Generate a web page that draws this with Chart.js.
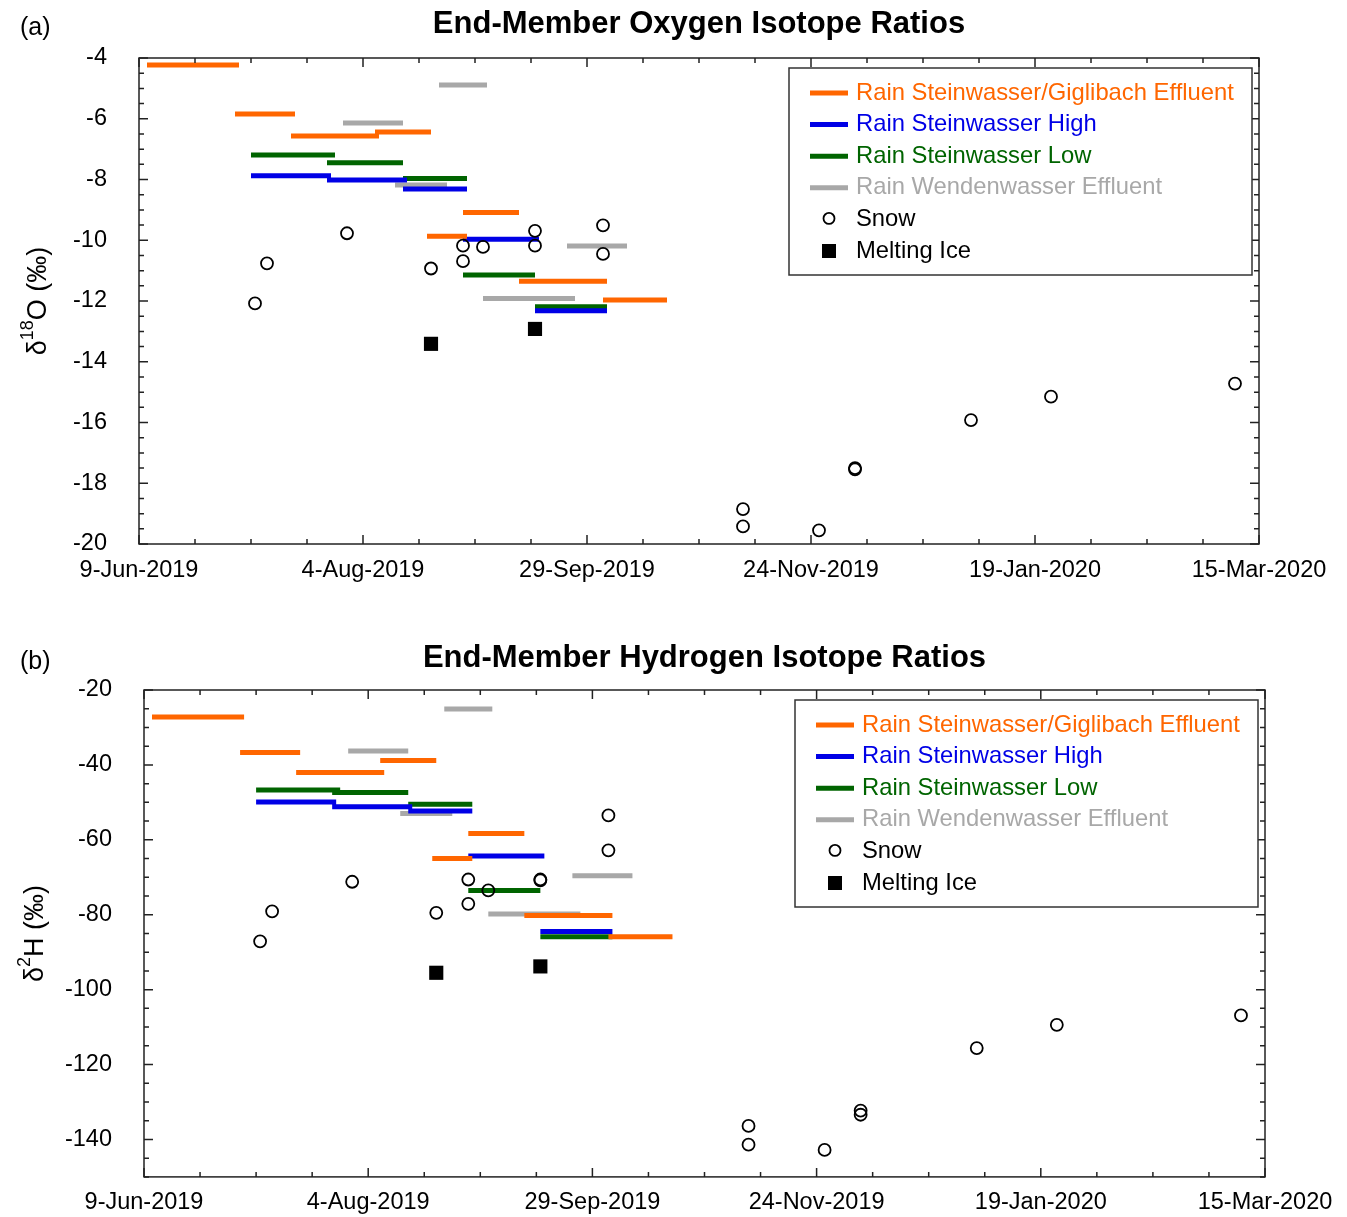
<!DOCTYPE html>
<html>
<head>
<meta charset="utf-8">
<title>End-Member Isotope Ratios</title>
<script src="https://cdn.jsdelivr.net/npm/chart.js@4.4.1/dist/chart.umd.min.js"></script>
<style>
  body { margin: 0; background: #fff; overflow: hidden; }
  canvas { position: absolute; left: 0; }
  #chartO { top: 0; }
  #chartH { top: 608px; }
</style>
</head>
<body>
<canvas id="chartO" width="1347" height="608"></canvas>
<canvas id="chartH" width="1347" height="615"></canvas>
<script>
// x axis: days after 9-Jun-2019, labelled every 8 weeks
const xStart = '2019-06-09';
const xEnd = '2020-03-15';
const xTickDates = ['2019-06-09', '2019-08-04', '2019-09-29', '2019-11-24', '2020-01-19', '2020-03-15'];
const xTickLabels = ['9-Jun-2019', '4-Aug-2019', '29-Sep-2019', '24-Nov-2019', '19-Jan-2020', '15-Mar-2020'];

// Rain Steinwasser/Giglibach Effluent
const sgStart = ['2019-06-11', '2019-07-03', '2019-07-17', '2019-08-07', '2019-08-20', '2019-08-29', '2019-09-12', '2019-10-03'];
const sgEnd   = ['2019-07-04', '2019-07-18', '2019-08-08', '2019-08-21', '2019-08-30', '2019-09-12', '2019-10-04', '2019-10-19'];
const sgO = [-4.23, -5.84, -6.57, -6.44, -9.87, -9.09, -11.35, -11.97];
const sgH = [-27.2, -36.7, -42.0, -38.8, -65.0, -58.3, -80.2, -85.9];

// Rain Steinwasser High
const highStart = ['2019-07-07', '2019-07-26', '2019-08-14', '2019-08-29', '2019-09-16'];
const highEnd   = ['2019-07-27', '2019-08-15', '2019-08-30', '2019-09-17', '2019-10-04'];
const highO = [-7.88, -8.02, -8.31, -9.97, -12.32];
const highH = [-49.9, -51.2, -52.3, -64.3, -84.5];

// Rain Steinwasser Low
const lowStart = ['2019-07-07', '2019-07-26', '2019-08-14', '2019-08-29', '2019-09-16'];
const lowEnd   = ['2019-07-28', '2019-08-14', '2019-08-30', '2019-09-16', '2019-10-04'];
const lowO = [-7.19, -7.45, -7.97, -11.14, -12.19];
const lowH = [-46.7, -47.4, -50.5, -73.5, -85.9];

// Rain Wendenwasser Effluent
const wendStart = ['2019-08-23', '2019-07-30', '2019-08-12', '2019-09-03', '2019-09-24'];
const wendEnd   = ['2019-09-04', '2019-08-14', '2019-08-25', '2019-09-26', '2019-10-09'];
const wendO = [-4.89, -6.14, -8.18, -11.92, -10.19];
const wendH = [-25.1, -36.3, -53.0, -79.8, -69.6];

// Snow samples
const snowDates = ['2019-07-08', '2019-07-11', '2019-07-31', '2019-08-21', '2019-08-29', '2019-08-29', '2019-09-03',
                   '2019-09-16', '2019-09-16', '2019-10-03', '2019-10-03', '2019-11-07', '2019-11-07', '2019-11-26',
                   '2019-12-05', '2019-12-05', '2020-01-03', '2020-01-23', '2020-03-09'];
const snowO = [-12.08, -10.76, -9.77, -10.93, -10.18, -10.69, -10.22, -9.69, -10.18, -9.51, -10.45,
               -18.85, -19.42, -19.55, -17.50, -17.54, -15.92, -15.15, -14.72];
const snowH = [-87.1, -79.1, -71.2, -79.5, -70.6, -77.1, -73.5, -70.6, -70.8, -53.5, -62.8,
               -136.4, -141.4, -142.8, -132.3, -133.4, -115.6, -109.4, -106.9];

// Melting ice samples
const iceDates = ['2019-08-21', '2019-09-16'];
const iceO = [-13.41, -12.92];
const iceH = [-95.5, -93.8];

const FONT = '"Liberation Sans", Arial, sans-serif';
const ORANGE = '#ff6600';
const BLUE = '#0000e6';
const GREEN = '#006400';
const GRAY = '#a8a8a8';

function dayOf(s) {
    const [y, m, d] = s.split('-').map(Number);
    const [y0, m0, d0] = xStart.split('-').map(Number);
    return Math.round((Date.UTC(y, m - 1, d) - Date.UTC(y0, m0 - 1, d0)) / 864e5);
}

function segments(starts, ends, vals) {
    const pts = [];
    vals.forEach((v, i) => {
        pts.push({ x: dayOf(starts[i]), y: v }, { x: dayOf(ends[i]), y: v }, { x: dayOf(ends[i]), y: null });
    });
    return pts;
}

function points(dates, vals) {
    return vals.map((v, i) => ({ x: dayOf(dates[i]), y: v }));
}

const majorDays = xTickDates.map(dayOf);

// box with inward ticks on all four sides
const framePlugin = {
    id: 'frame',
    afterDatasetsDraw(chart, args, opts) {
        const { ctx, chartArea: a, scales: { x, y } } = chart;
        ctx.save();
        ctx.strokeStyle = '#222';
        ctx.lineWidth = 1.5;
        ctx.beginPath();
        x.ticks.forEach(t => {
            const px = x.getPixelForValue(t.value);
            const len = majorDays.includes(t.value) ? 9 : 5;
            ctx.moveTo(px, a.bottom); ctx.lineTo(px, a.bottom - len);
            ctx.moveTo(px, a.top); ctx.lineTo(px, a.top + len);
        });
        y.ticks.forEach(t => {
            const py = y.getPixelForValue(t.value);
            const r = Math.abs(t.value / opts.yMajor - Math.round(t.value / opts.yMajor));
            const len = r < 1e-6 ? 9 : 5;
            ctx.moveTo(a.left, py); ctx.lineTo(a.left + len, py);
            ctx.moveTo(a.right, py); ctx.lineTo(a.right - len, py);
        });
        ctx.stroke();
        ctx.strokeRect(a.left, a.top, a.right - a.left, a.bottom - a.top);
        ctx.restore();
    }
};

// panel letter, title and y axis title with superscript
const labelsPlugin = {
    id: 'labels',
    afterDraw(chart, args, opts) {
        const { ctx, chartArea: a } = chart;
        ctx.save();
        ctx.fillStyle = '#000';
        ctx.textBaseline = 'middle';
        ctx.font = '25px ' + FONT;
        ctx.textAlign = 'left';
        ctx.fillText(opts.panel, 20, opts.titleY + 4);
        ctx.font = 'bold 31px ' + FONT;
        ctx.textAlign = 'center';
        ctx.fillText(opts.title, (a.left + a.right) / 2, opts.titleY);

        ctx.translate(opts.axisX, (a.top + a.bottom) / 2);
        ctx.rotate(-Math.PI / 2);
        ctx.textAlign = 'left';
        ctx.textBaseline = 'alphabetic';
        const big = '27px ' + FONT, small = '18px ' + FONT;
        ctx.font = big;
        const w1 = ctx.measureText(opts.axis[0]).width;
        const w3 = ctx.measureText(opts.axis[2]).width;
        ctx.font = small;
        const w2 = ctx.measureText(opts.axis[1]).width;
        let px = -(w1 + w2 + w3) / 2;
        ctx.font = big;
        ctx.fillText(opts.axis[0], px, 10);
        px += w1;
        ctx.font = small;
        ctx.fillText(opts.axis[1], px, -3);
        px += w2;
        ctx.font = big;
        ctx.fillText(opts.axis[2], px, 10);
        ctx.restore();
    }
};

// boxed legend in the upper right of the plot
const boxLegendPlugin = {
    id: 'boxLegend',
    afterDraw(chart) {
        const { ctx, chartArea: a } = chart;
        const w = 463, h = 207;
        const left = a.right - 7 - w, top = a.top + 10;
        ctx.save();
        ctx.fillStyle = '#fff';
        ctx.fillRect(left, top, w, h);
        ctx.strokeStyle = '#333';
        ctx.lineWidth = 1.5;
        ctx.strokeRect(left, top, w, h);
        ctx.font = '23.8px ' + FONT;
        ctx.textBaseline = 'middle';
        ctx.textAlign = 'left';
        const items = chart.data.datasets.filter(ds => ds.legendRow !== undefined)
            .sort((p, q) => p.legendRow - q.legendRow);
        items.forEach((ds, i) => {
            const cy = top + 25 + i * 31.6;
            const sx = left + 21, ex = left + 59;
            if (ds.showLine) {
                ctx.strokeStyle = ds.borderColor;
                ctx.lineWidth = 5;
                ctx.beginPath();
                ctx.moveTo(sx, cy); ctx.lineTo(ex, cy);
                ctx.stroke();
            } else if (ds.pointStyle === 'rect') {
                ctx.fillStyle = '#000';
                ctx.fillRect((sx + ex) / 2 - 7, cy - 7, 14, 14);
            } else {
                ctx.strokeStyle = '#000';
                ctx.lineWidth = 1.8;
                ctx.beginPath();
                ctx.arc((sx + ex) / 2, cy - 1, 5.5, 0, Math.PI * 2);
                ctx.stroke();
            }
            ctx.fillStyle = ds.textColor;
            ctx.fillText(ds.label, left + 67, cy);
        });
        ctx.restore();
    }
};

function lineSet(label, color, data, row, order) {
    return {
        label, data, showLine: true, spanGaps: false, borderColor: color, backgroundColor: color,
        borderWidth: 5, borderCapStyle: 'butt', pointRadius: 0, pointHoverRadius: 0,
        textColor: color, legendRow: row, order
    };
}

function makeChart(id, cfg) {
    return new Chart(document.getElementById(id), {
        type: 'scatter',
        data: {
            datasets: [
                lineSet('Rain Steinwasser/Giglibach Effluent', ORANGE, segments(sgStart, sgEnd, cfg.sg), 0, 1),
                lineSet('Rain Steinwasser High', BLUE, segments(highStart, highEnd, cfg.high), 1, 2),
                lineSet('Rain Steinwasser Low', GREEN, segments(lowStart, lowEnd, cfg.low), 2, 3),
                lineSet('Rain Wendenwasser Effluent', GRAY, segments(wendStart, wendEnd, cfg.wend), 3, 4),
                {
                    label: 'Snow', data: points(snowDates, cfg.snow), pointStyle: 'circle', pointRadius: 6,
                    borderColor: '#000', backgroundColor: 'rgba(0,0,0,0)', borderWidth: 1.8,
                    textColor: '#000', legendRow: 4, order: 0
                },
                {
                    label: 'Melting Ice', data: points(iceDates, cfg.ice), pointStyle: 'rect', pointRadius: 10,
                    borderColor: '#000', backgroundColor: '#000', borderWidth: 0,
                    textColor: '#000', legendRow: 5, order: 0
                }
            ]
        },
        options: {
            responsive: false,
            animation: false,
            layout: { padding: cfg.padding },
            scales: {
                x: {
                    type: 'linear', min: dayOf(xStart), max: dayOf(xEnd),
                    grid: { display: false, drawTicks: false }, border: { display: false },
                    afterFit: s => { s.height = 40; },
                    afterBuildTicks: s => {
                        const t = [];
                        for (let d = dayOf(xStart); d <= dayOf(xEnd); d += 14) t.push({ value: d });
                        s.ticks = t;
                    },
                    ticks: {
                        autoSkip: false, maxRotation: 0, padding: 12, color: '#000',
                        font: { family: FONT, size: 23.5 },
                        callback: v => {
                            const k = majorDays.indexOf(v);
                            return k >= 0 ? xTickLabels[k] : '';
                        }
                    }
                },
                y: {
                    min: cfg.yMin, max: cfg.yMax,
                    grid: { display: false, drawTicks: false }, border: { display: false },
                    afterFit: s => { s.width = 100; },
                    afterBuildTicks: s => {
                        const t = [];
                        for (let v = cfg.yMin; v <= cfg.yMax + 1e-9; v += cfg.yMinor) t.push({ value: +v.toFixed(3) });
                        s.ticks = t;
                    },
                    ticks: {
                        autoSkip: false, padding: 32, color: '#000',
                        font: { family: FONT, size: 23.5 },
                        callback: v => {
                            const r = Math.abs(v / cfg.yMajor - Math.round(v / cfg.yMajor));
                            return r < 1e-6 ? String(v) : '';
                        }
                    }
                }
            },
            plugins: {
                legend: { display: false },
                tooltip: { enabled: false },
                frame: { yMajor: cfg.yMajor },
                labels: { panel: cfg.panel, title: cfg.title, titleY: cfg.titleY, axis: cfg.axis, axisX: cfg.axisX }
            }
        },
        plugins: [framePlugin, labelsPlugin, boxLegendPlugin]
    });
}

makeChart('chartO', {
    sg: sgO, high: highO, low: lowO, wend: wendO, snow: snowO, ice: iceO,
    yMin: -20, yMax: -4, yMajor: 2, yMinor: 0.5,
    padding: { left: 39, right: 88, top: 58, bottom: 24 },
    panel: '(a)', title: 'End-Member Oxygen Isotope Ratios', titleY: 24,
    axis: ['\u03b4', '18', 'O (\u2030)'], axisX: 36
});

makeChart('chartH', {
    sg: sgH, high: highH, low: lowH, wend: wendH, snow: snowH, ice: iceH,
    yMin: -150, yMax: -20, yMajor: 20, yMinor: 5,
    padding: { left: 44, right: 82, top: 82, bottom: 1 },
    panel: '(b)', title: 'End-Member Hydrogen Isotope Ratios', titleY: 50,
    axis: ['\u03b4', '2', 'H (\u2030)'], axisX: 33
});
</script>
</body>
</html>
